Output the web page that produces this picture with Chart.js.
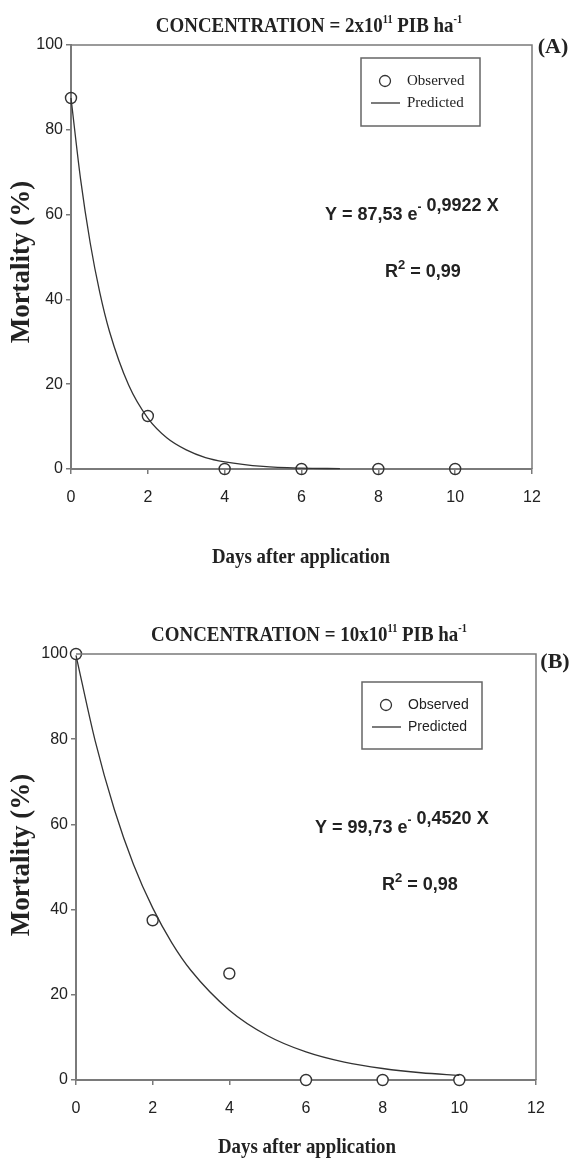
<!DOCTYPE html>
<html>
<head>
<meta charset="utf-8">
<script src="https://cdn.jsdelivr.net/npm/chart.js@4.4.1/dist/chart.umd.min.js"></script>
<style>
    html, body { margin: 0; padding: 0; background: #fff; }
    canvas { position: absolute; left: 0; }
    #chartA { top: 0; }
    #chartB { top: 580px; }
</style>
</head>
<body>
<canvas id="chartA" width="572" height="580"></canvas>
<canvas id="chartB" width="572" height="578"></canvas>
<script>
/* ------------------------------------------------------------------ *
 |  Data
 * ------------------------------------------------------------------ */
const xTicks = [0, 2, 4, 6, 8, 10, 12];
const yTicks = [0, 20, 40, 60, 80, 100];

const daysObserved = [0, 2, 4, 6, 8, 10];
const observedA = [87.5, 12.5, 0, 0, 0, 0];
const observedB = [100, 37.5, 25, 0, 0, 0];

// fitted curves as traced on the figure
const daysPredictedA = [0, 0.25, 0.5, 0.75, 1, 1.5, 2, 2.5, 3, 3.5, 4, 5, 6, 7];
const predictedA = [87.5, 68.3, 53.3, 41.6, 32.5, 19.8, 12.0, 7.3, 4.5, 2.7, 1.7, 0.6, 0.2, 0.1];
const daysPredictedB = [0, 0.5, 1, 1.5, 2, 2.5, 3, 4, 5, 6, 7, 8, 9, 10];
const predictedB = [99.7, 79.6, 63.5, 50.6, 40.4, 32.2, 25.7, 16.4, 10.4, 6.6, 4.2, 2.7, 1.7, 1.1];

const AXIS = '#7a7a7a';
const INK = '#222';
const SERIF = "'Liberation Serif', 'Times New Roman', serif";
const SANS = "'Liberation Sans', Arial, sans-serif";

const pts = (xs, ys) => xs.map((x, i) => ({ x, y: ys[i] }));

/* Draw text made of several runs (for superscripts) */
function drawRich(ctx, parts, x, y, squeeze = 1) {
    ctx.save();
    ctx.textBaseline = 'alphabetic';
    ctx.textAlign = 'left';
    ctx.translate(x, y);
    ctx.scale(squeeze, 1);
    let cx = 0;
    parts.forEach(([text, font, rise]) => {
        ctx.font = font;
        ctx.fillText(text, cx, -(rise || 0));
        cx += ctx.measureText(text).width;
    });
    ctx.restore();
}
function richWidth(ctx, parts) {
    let w = 0;
    parts.forEach(([text, font]) => { ctx.font = font; w += ctx.measureText(text).width; });
    return w;
}

/* Frame, titles, legend box and equation */
const decorations = {
    id: 'decorations',
    afterDraw(chart, args, o) {
        const { ctx, chartArea: a } = chart;
        ctx.save();
        ctx.strokeStyle = AXIS;
        ctx.lineWidth = 1.5;
        ctx.beginPath();
        ctx.moveTo(a.left, a.top);
        ctx.lineTo(a.right, a.top);
        ctx.lineTo(a.right, a.bottom);
        ctx.stroke();

        ctx.fillStyle = INK;
        // title, centred
        const tf = `bold 22px ${SERIF}`, ts = `bold 12px ${SERIF}`;
        const title = [['CONCENTRATION = ' + o.conc + 'x10', tf], ['11', ts, 9], [' PIB ha', tf], ['-1', ts, 9]];
        const sq = 0.86;
        const tw = richWidth(ctx, title) * sq;
        drawRich(ctx, title, o.titleX - tw / 2, o.titleY, sq);

        ctx.textAlign = 'center';
        ctx.textBaseline = 'middle';
        ctx.font = `bold 22px ${SERIF}`;
        ctx.fillText(o.tag, o.tagX, o.tagY);

        ctx.font = `bold 21px ${SERIF}`;
        ctx.fillText('Days after application', o.xTitleX, o.xTitleY, 178);

        ctx.save();
        ctx.translate(22, o.yTitleY);
        ctx.rotate(-Math.PI / 2);
        ctx.font = `bold 27px ${SERIF}`;
        ctx.fillText('Mortality (%)', 0, 0, 190);
        ctx.restore();

        // legend
        const L = o.legend;
        ctx.strokeStyle = '#666';
        ctx.lineWidth = 1.5;
        ctx.strokeRect(L.x, L.y, L.w, L.h);
        ctx.strokeStyle = '#333';
        ctx.lineWidth = 1.3;
        ctx.beginPath();
        ctx.arc(L.x + 24, L.y + 23, 5.5, 0, Math.PI * 2);
        ctx.stroke();
        ctx.beginPath();
        ctx.moveTo(L.x + 10, L.y + 45);
        ctx.lineTo(L.x + 39, L.y + 45);
        ctx.stroke();
        ctx.textAlign = 'left';
        ctx.font = L.font;
        ctx.fillText('Observed', L.x + 46, L.y + 23);
        ctx.fillText('Predicted', L.x + 46, L.y + 45);

        // equation and R²
        const ef = `bold 18px ${SANS}`, es = `bold 12px ${SANS}`;
        drawRich(ctx, [['Y = ' + o.a + ' e', ef], ['-', es, 9], [' ' + o.k + ' X', ef, 9]], o.eqX, o.eqY);
        drawRich(ctx, [['R', ef], ['2', `bold 13px ${SANS}`, 8], [' = ' + o.r2, ef]], o.r2X, o.r2Y);
        ctx.restore();
    },
};

function makePanel(id, box, observed, predX, predY, deco) {
    const el = document.getElementById(id);
    return new Chart(el.getContext('2d'), {
        type: 'scatter',
        data: {
            datasets: [
                {
                    label: 'Predicted',
                    data: pts(predX, predY),
                    showLine: true,
                    borderColor: '#333',
                    borderWidth: 1.3,
                    pointRadius: 0,
                    cubicInterpolationMode: 'monotone',
                    clip: false,
                },
                {
                    label: 'Observed',
                    data: pts(daysObserved, observed),
                    showLine: false,
                    pointRadius: 5.5,
                    pointBorderWidth: 1.4,
                    pointBorderColor: '#333',
                    pointBackgroundColor: box.fill,
                    clip: false,
                },
            ],
        },
        options: {
            responsive: false,
            animation: false,
            layout: {
                padding: { left: 0, top: box.top, right: 572 - box.right, bottom: box.h - box.bottom - 40 },
            },
            plugins: { legend: { display: false }, tooltip: { enabled: false }, decorations: deco },
            scales: {
                x: {
                    type: 'linear', min: 0, max: 12,
                    afterBuildTicks: (s) => { s.ticks = xTicks.map((v) => ({ value: v })); },
                    afterFit: (s) => { s.height = 40; },
                    ticks: { color: INK, font: { family: SANS, size: 16 }, padding: 14 },
                    grid: { drawOnChartArea: false, tickLength: 5, color: AXIS, lineWidth: 1.5 },
                    border: { color: AXIS, width: 2 },
                },
                y: {
                    type: 'linear', min: 0, max: 100,
                    afterBuildTicks: (s) => { s.ticks = yTicks.map((v) => ({ value: v })); },
                    afterFit: (s) => { s.width = box.left; },
                    ticks: { color: INK, font: { family: SANS, size: 16 }, padding: 3 },
                    grid: { drawOnChartArea: false, tickLength: 5, color: AXIS, lineWidth: 1.5 },
                    border: { color: AXIS, width: 2 },
                },
            },
        },
        plugins: [decorations],
    });
}

makePanel('chartA', { left: 71, right: 532, top: 45, bottom: 469, h: 580, fill: 'rgba(0,0,0,0)' },
    observedA, daysPredictedA, predictedA, {
        conc: '2', titleX: 309, titleY: 32, tag: '(A)', tagX: 553, tagY: 47,
        xTitleX: 301, xTitleY: 558, yTitleY: 262,
        legend: { x: 361, y: 58, w: 119, h: 68, font: `15px ${SERIF}` },
        a: '87,53', k: '0,9922', eqX: 325, eqY: 220, r2: '0,99', r2X: 385, r2Y: 277,
    });

makePanel('chartB', { left: 76, right: 536, top: 74, bottom: 500, h: 578, fill: '#fff' },
    observedB, daysPredictedB, predictedB, {
        conc: '10', titleX: 309, titleY: 61, tag: '(B)', tagX: 555, tagY: 82,
        xTitleX: 307, xTitleY: 568, yTitleY: 275,
        legend: { x: 362, y: 102, w: 120, h: 67, font: `14px ${SANS}` },
        a: '99,73', k: '0,4520', eqX: 315, eqY: 253, r2: '0,98', r2X: 382, r2Y: 310,
    });
</script>
</body>
</html>
